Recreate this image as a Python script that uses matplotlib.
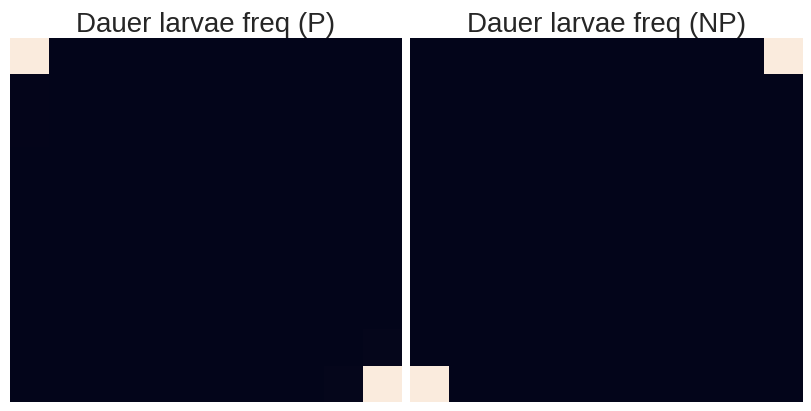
import numpy as np
import matplotlib.pyplot as plt
import seaborn as sns

sns.set_theme(style="white")
plt.rcParams['font.family'] = ['Arial', 'Liberation Sans', 'DejaVu Sans']

# frecuencias de larvas dauer (10 x 10)
freq_p = [
    [1.00, 0.00, 0.00, 0.00, 0.00, 0.00, 0.00, 0.00, 0.00, 0.00],
    [0.005, 0.00, 0.00, 0.00, 0.00, 0.00, 0.00, 0.00, 0.00, 0.00],
    [0.005, 0.00, 0.00, 0.00, 0.00, 0.00, 0.00, 0.00, 0.00, 0.00],
    [0.00, 0.00, 0.00, 0.00, 0.00, 0.00, 0.00, 0.00, 0.00, 0.00],
    [0.00, 0.00, 0.00, 0.00, 0.00, 0.00, 0.00, 0.00, 0.00, 0.00],
    [0.00, 0.00, 0.00, 0.00, 0.00, 0.00, 0.00, 0.00, 0.00, 0.00],
    [0.00, 0.00, 0.00, 0.00, 0.00, 0.00, 0.00, 0.00, 0.00, 0.00],
    [0.00, 0.00, 0.00, 0.00, 0.00, 0.00, 0.00, 0.00, 0.00, 0.00],
    [0.00, 0.00, 0.00, 0.00, 0.00, 0.00, 0.00, 0.00, 0.00, 0.01],
    [0.00, 0.00, 0.00, 0.00, 0.00, 0.00, 0.00, 0.00, 0.01, 1.00],
]
freq_np = [
    [0.00, 0.00, 0.00, 0.00, 0.00, 0.00, 0.00, 0.00, 0.00, 1.00],
    [0.00, 0.00, 0.00, 0.00, 0.00, 0.00, 0.00, 0.00, 0.00, 0.00],
    [0.00, 0.00, 0.00, 0.00, 0.00, 0.00, 0.00, 0.00, 0.00, 0.00],
    [0.00, 0.00, 0.00, 0.00, 0.00, 0.00, 0.00, 0.00, 0.00, 0.00],
    [0.00, 0.00, 0.00, 0.00, 0.00, 0.00, 0.00, 0.00, 0.00, 0.00],
    [0.00, 0.00, 0.00, 0.00, 0.00, 0.00, 0.00, 0.00, 0.00, 0.00],
    [0.00, 0.00, 0.00, 0.00, 0.00, 0.00, 0.00, 0.00, 0.00, 0.00],
    [0.00, 0.00, 0.00, 0.00, 0.00, 0.00, 0.00, 0.00, 0.00, 0.00],
    [0.00, 0.00, 0.00, 0.00, 0.00, 0.00, 0.00, 0.00, 0.00, 0.00],
    [1.00, 0.00, 0.00, 0.00, 0.00, 0.00, 0.00, 0.00, 0.00, 0.00],
]
titulos = ["Dauer larvae freq (P)", "Dauer larvae freq (NP)"]

W, H = 811, 411
fig = plt.figure(figsize=(W / 100, H / 100), dpi=100)
ax1 = fig.add_axes([10 / W, 9 / H, 392 / W, 364 / H])
ax2 = fig.add_axes([410 / W, 9 / H, 393 / W, 364 / H])

for ax, datos, titulo in zip([ax1, ax2], [freq_p, freq_np], titulos):
    sns.heatmap(np.array(datos), ax=ax, cmap="rocket", vmin=0, vmax=1,
                cbar=False, xticklabels=False, yticklabels=False)
    ax.set_title(titulo, fontsize=20, color="#262626", pad=4)

fig.savefig("out.png", dpi=100)
